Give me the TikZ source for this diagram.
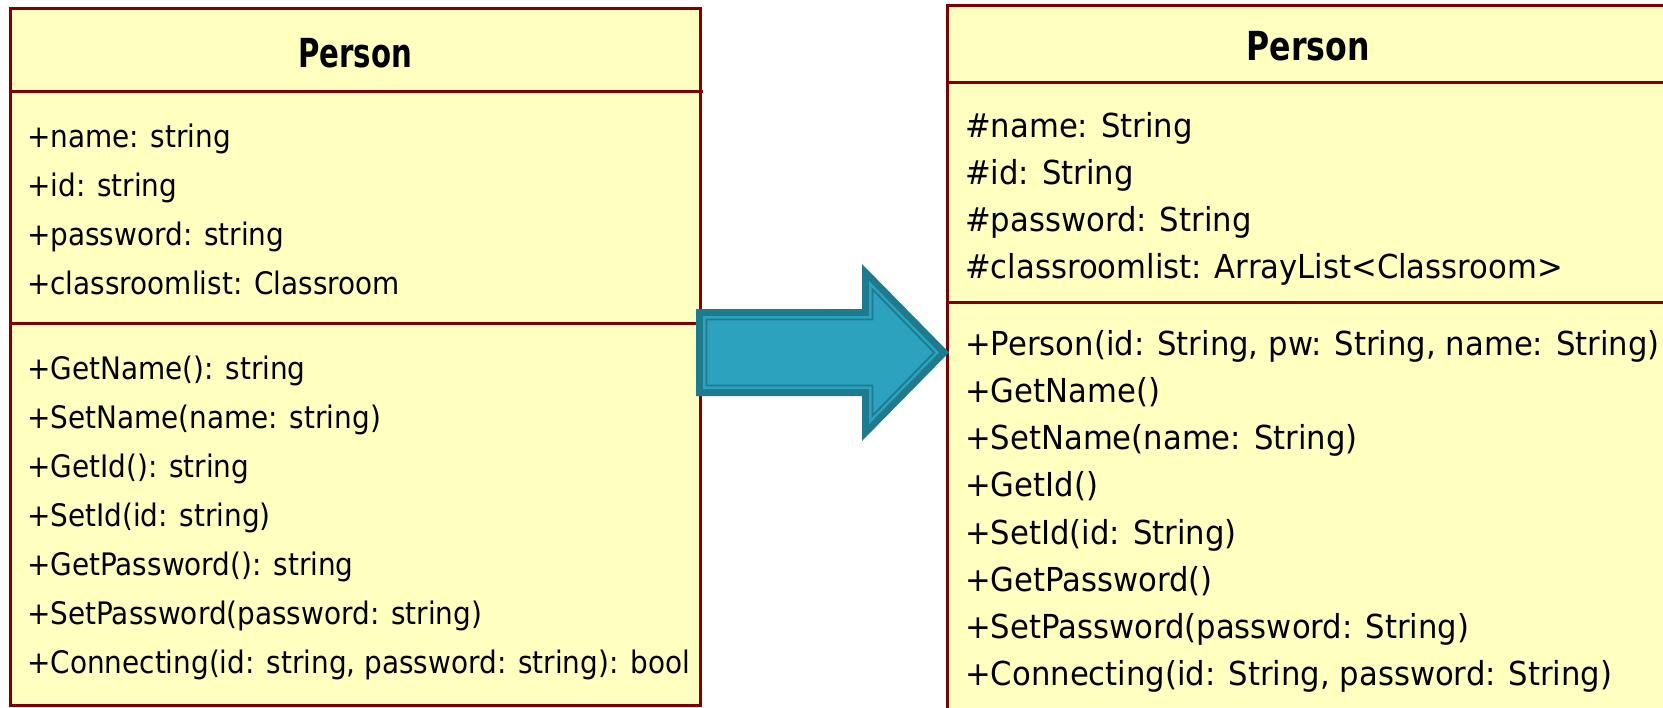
\documentclass[tikz,border=0pt]{standalone}
\usepackage{fontspec}
\newfontfamily\leftclassfont[FakeStretch=0.9]{DejaVu Sans}
\newfontfamily\rightclassfont[FakeStretch=0.93]{DejaVu Sans}
\newfontfamily\lefttitlefont[FakeStretch=0.73]{DejaVu Sans}
\newfontfamily\righttitlefont[FakeStretch=0.79]{DejaVu Sans}
\definecolor{umlborder}{RGB}{128,0,0}
\definecolor{umlfill}{RGB}{255,255,192}
\definecolor{arrowdark}{RGB}{30,122,142}
\definecolor{arrowfill}{RGB}{44,162,191}
% outline of the big arrow, pulled in by #1
\newcommand\bigarrow[1]{(696+#1,309+#1) -- (862+#1,309+#1) -- (862+#1,{264+2.414*#1})
	-- ({949-1.414*#1},352.5) -- (862+#1,{441-2.414*#1}) -- (862+#1,396-#1)
	-- (696+#1,396-#1) -- cycle}

\begin{document}
\begin{tikzpicture}[
		x=1pt, y=-1pt,
		classbox/.style = {
			draw = umlborder,
			fill = umlfill,
			line width = 3pt
		},
		divider/.style = {
			draw = umlborder,
			line width = 3pt
		},
		members/.style = {
			anchor = north west,
			align = left,
			inner sep = 0pt
		}
	]
	\useasboundingbox (0,0) rectangle (1663,707);
	\clip (0,0) rectangle (1663,707);

	% old class
	\draw[classbox] (10.5,8.5) rectangle (700,705);
	\draw[divider] (10.5,91) -- (703,91);
	\draw[divider] (10.5,323) -- (700,323);
	\node[anchor=base, inner sep=0pt,
		font={\lefttitlefont\bfseries\fontsize{40}{48}\selectfont}] (ltitle) at (355,67) {Person};
	\node[members, font={\leftclassfont\fontsize{31}{49}\selectfont}] (lattrs) at (27,123.5) {
		+name: string\\
		+id: string\\
		+password: string\\
		+classroomlist: Classroom
	};
	\node[members, font={\leftclassfont\fontsize{31}{49}\selectfont}] (lops) at (27,355.5) {
		+GetName(): string\\
		+SetName(name: string)\\
		+GetId(): string\\
		+SetId(id: string)\\
		+GetPassword(): string\\
		+SetPassword(password: string)\\
		+Connecting(id: string, password: string): bool
	};

	% new class
	\draw[classbox] (947,5) rectangle (1669,725);
	\draw[divider] (947,82.5) -- (1669,82.5);
	\draw[divider] (947,302) -- (1669,302);
	\node[anchor=base, inner sep=0pt,
		font={\righttitlefont\bfseries\fontsize{40}{48}\selectfont}] (rtitle) at (1308,60) {Person};
	\node[members, font={\rightclassfont\fontsize{33}{47.1}\selectfont}] (rattrs) at (965,112) {
		\#name: String\\
		\#id: String\\
		\#password: String\\
		\#classroomlist: ArrayList<Classroom>
	};
	\node[members, font={\rightclassfont\fontsize{33}{47.2}\selectfont}] (rops) at (965,330) {
		+Person(id: String, pw: String, name: String)\\
		+GetName()\\
		+SetName(name: String)\\
		+GetId()\\
		+SetId(id: String)\\
		+GetPassword()\\
		+SetPassword(password: String)\\
		+Connecting(id: String, password: String)
	};

	% arrow between the two
	\fill[arrowdark] \bigarrow{0};
	\fill[arrowfill] \bigarrow{7};
	\draw[arrowdark, line width=1.8pt, line join=miter] \bigarrow{10.5};
\end{tikzpicture}
\end{document}
